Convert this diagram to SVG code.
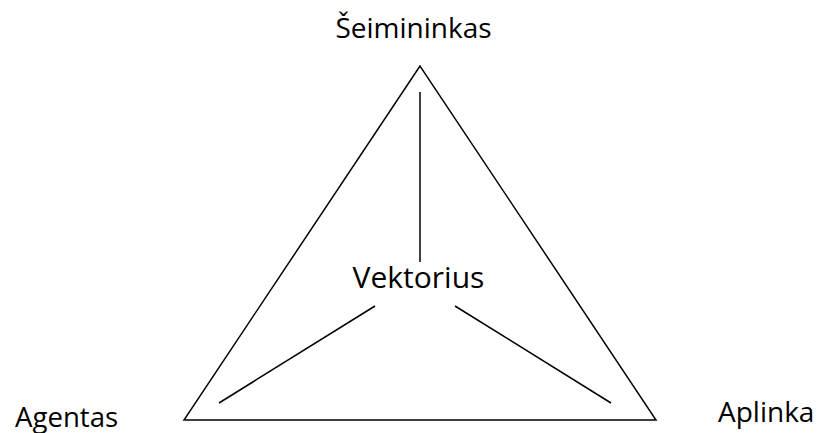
<svg xmlns="http://www.w3.org/2000/svg" width="820" height="433" viewBox="0 0 820 433">
<style>
.lbl{font-family:"Open Sans","Liberation Sans",sans-serif;font-size:28px;fill:#000}
.ln{stroke:#000;stroke-width:1.5;fill:none}
</style>
<rect width="820" height="433" fill="#fff"/>
<g id="connectors">
<polygon class="ln" points="420,66 184,420 656,420"/>
<line class="ln" x1="420" y1="92" x2="420" y2="262"/>
<line class="ln" x1="375" y1="306" x2="219" y2="403"/>
<line class="ln" x1="455" y1="306" x2="611" y2="403"/>
</g>
<g id="seimininkas"><text class="lbl" x="413.5" y="38" text-anchor="middle">Šeimininkas</text></g>
<g id="vektorius"><text class="lbl" x="418.5" y="288" text-anchor="middle" style="font-size:30px">Vektorius</text></g>
<g id="agentas"><text class="lbl" x="15" y="427" style="font-size:27.6px">Agentas</text></g>
<g id="aplinka"><text class="lbl" x="718" y="422">Aplinka</text></g>
</svg>
